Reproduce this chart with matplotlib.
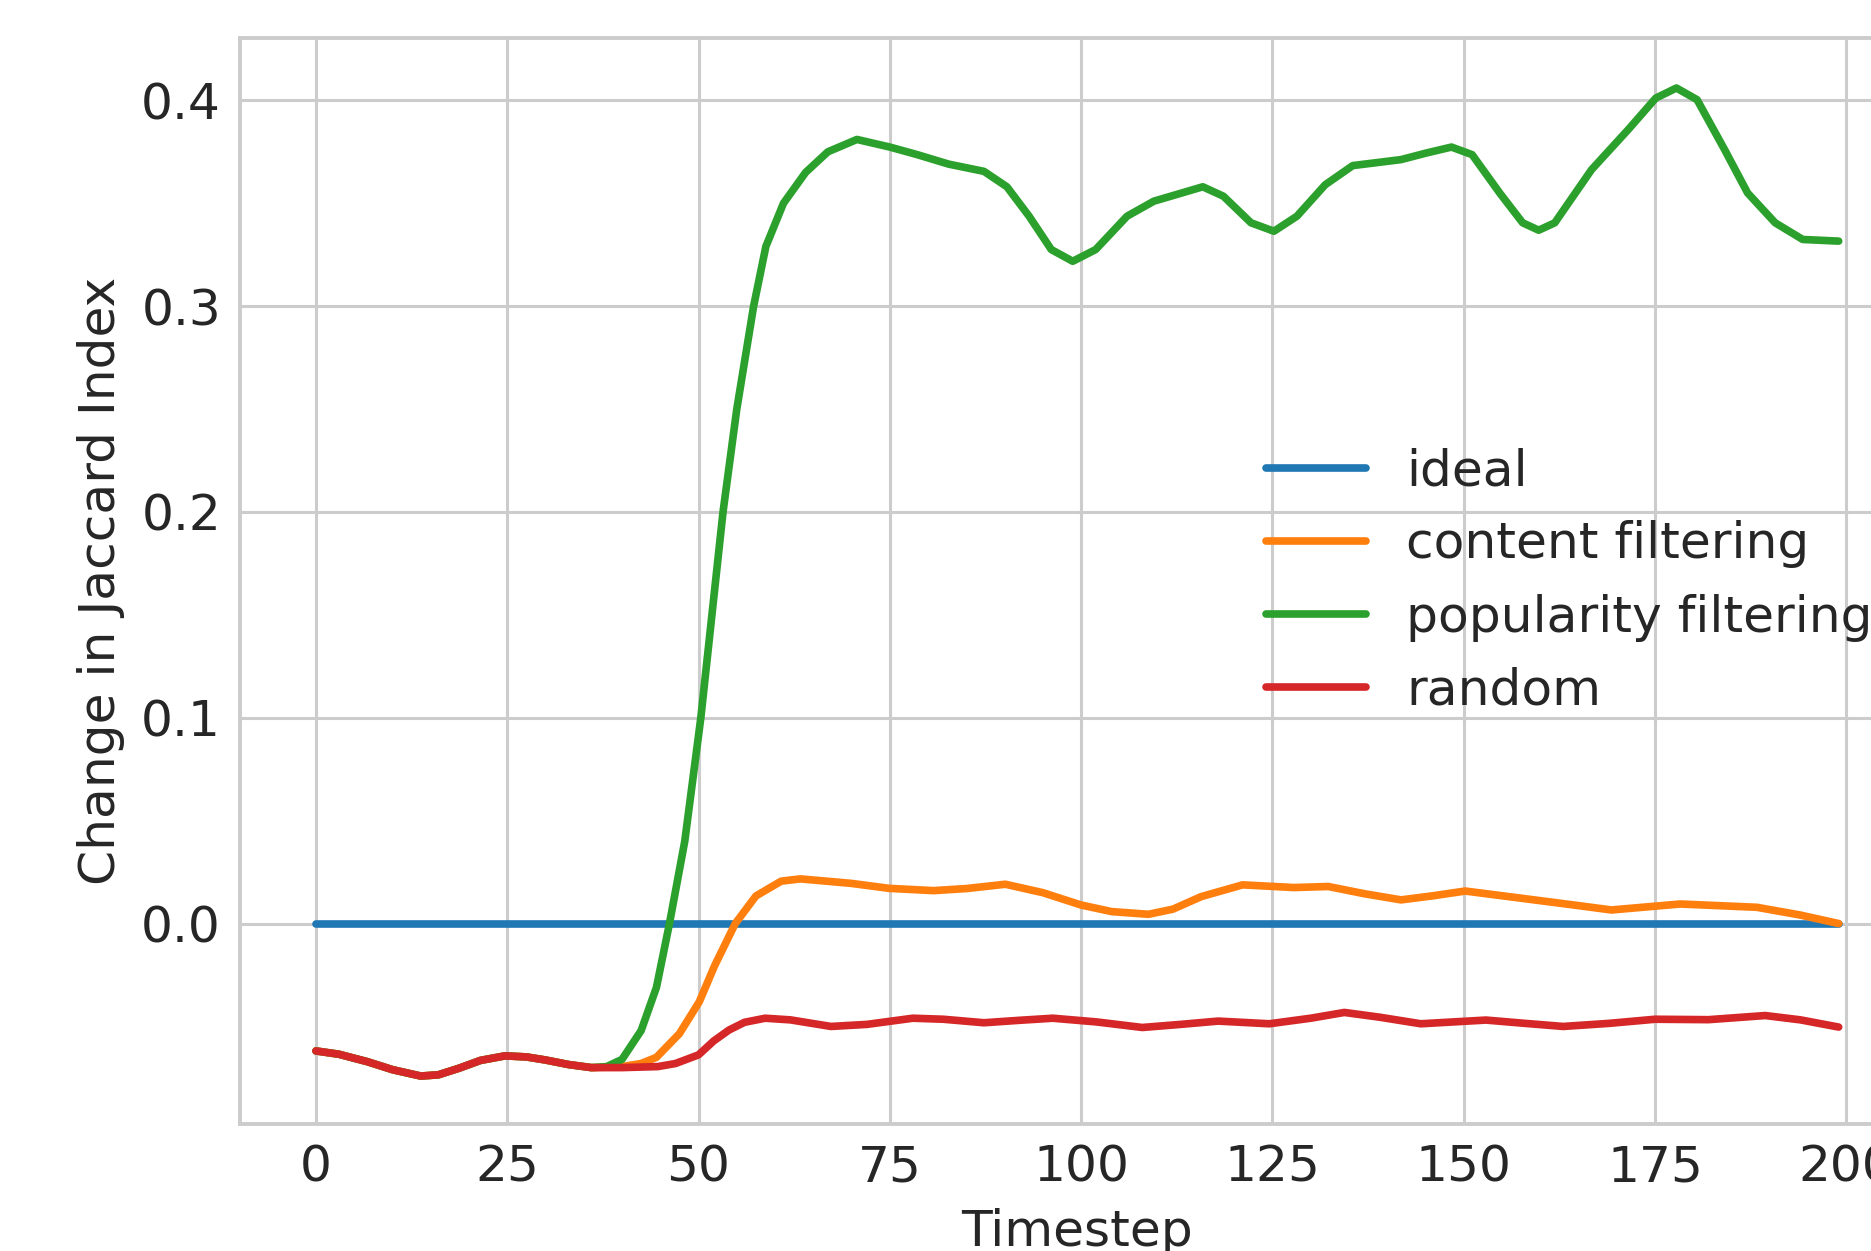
import matplotlib
matplotlib.use("Agg")
import matplotlib.pyplot as plt

# ---- data ----
series_names = ["ideal", "content filtering", "popularity filtering", "random"]
series_colors = ["#1f77b4", "#ff7f0e", "#2ca02c", "#d62728"]

ideal_t = [0, 199]
ideal_v = [0.0, 0.0]

red_t = [0, 3, 6.7, 10, 13.7, 16, 18.7, 21.5, 24.7, 27.5, 30, 33, 36, 40, 44.7, 47,
         50, 52, 54, 56, 58.7, 62, 67.3, 72, 78, 82, 87.3, 92, 96.3, 102, 108, 113,
         117.9, 124.6, 130, 134.4, 139, 144.4, 152.9, 158, 163, 169, 175, 182,
         189.4, 194, 199]
red_v = [-0.0619, -0.0635, -0.0671, -0.0710, -0.0741, -0.0735, -0.0703, -0.0665,
         -0.0643, -0.0648, -0.0663, -0.0685, -0.0700, -0.0700, -0.0695, -0.0680,
         -0.0638, -0.0570, -0.0517, -0.0480, -0.0460, -0.0468, -0.0500, -0.0490,
         -0.0460, -0.0465, -0.0482, -0.0470, -0.0460, -0.0478, -0.0505, -0.0490,
         -0.0474, -0.0487, -0.0460, -0.0432, -0.0455, -0.0487, -0.0469, -0.0485,
         -0.0500, -0.0485, -0.0465, -0.0467, -0.0447, -0.0468, -0.0503]

green_t = [0, 3, 6.7, 10, 13.7, 16, 18.7, 21.5, 24.7, 27.5, 30, 33, 36, 38, 40, 42.5,
           44.5, 46.2, 48.2, 50.3, 53.2, 55, 57.2, 58.8, 61.1, 64, 66.9, 70.7, 75,
           78.6, 82.7, 87.3, 90.3, 93.2, 96.1, 98.9, 101.9, 106, 109.5, 115.9, 118.6,
           122.2, 125.2, 128.2, 131.9, 135.5, 141.8, 145.1, 148.4, 151.1, 154.7,
           157.7, 159.8, 161.9, 166.7, 171.5, 175.1, 177.8, 180.5, 184.1, 187.1,
           190.7, 194.3, 199]
green_v = [-0.0619, -0.0635, -0.0671, -0.0710, -0.0741, -0.0735, -0.0703, -0.0665,
           -0.0643, -0.0648, -0.0663, -0.0685, -0.0700, -0.0695, -0.0660, -0.0520,
           -0.0310, 0.0, 0.040, 0.100, 0.200, 0.250, 0.300, 0.329, 0.350, 0.365,
           0.375, 0.381, 0.3773, 0.3736, 0.369, 0.3655, 0.358, 0.3437, 0.3275,
           0.3218, 0.3275, 0.3437, 0.351, 0.358, 0.3534, 0.3405, 0.3364, 0.3437,
           0.359, 0.3683, 0.3712, 0.3744, 0.3773, 0.3736, 0.355, 0.3405, 0.3369,
           0.3405, 0.3663, 0.3858, 0.4011, 0.406, 0.4003, 0.376, 0.355, 0.3405,
           0.3324, 0.3316]

orange_t = [0, 3, 6.7, 10, 13.7, 16, 18.7, 21.5, 24.7, 27.5, 30, 33, 36, 40, 42.5,
            44.5, 47.5, 50.1, 52.1, 54.8, 57.5, 60.8, 63.3, 67, 70, 74.9, 80.7, 85,
            90.1, 95, 100, 104, 108.8, 112, 115.7, 121.1, 127.8, 132.3, 137, 141.8,
            146, 150.2, 159.2, 164, 169.3, 178.3, 188.3, 193.9, 199]
orange_v = [-0.0619, -0.0635, -0.0671, -0.0710, -0.0741, -0.0735, -0.0703, -0.0665,
            -0.0643, -0.0648, -0.0663, -0.0685, -0.0700, -0.0695, -0.0680, -0.0650,
            -0.0535, -0.0380, -0.0205, 0.0, 0.0134, 0.0206, 0.0217, 0.0205, 0.0195,
            0.0171, 0.0160, 0.0170, 0.0191, 0.0150, 0.0090, 0.0058, 0.0045, 0.0070,
            0.0131, 0.0188, 0.0175, 0.0180, 0.0145, 0.0115, 0.0135, 0.0158, 0.0115,
            0.0092, 0.0066, 0.0095, 0.0079, 0.0042, 0.0]

x_ticks = [0, 25, 50, 75, 100, 125, 150, 175, 200]
y_ticks = [0.0, 0.1, 0.2, 0.3, 0.4]
x_label = "Timestep"
y_label = "Change in Jaccard Index"

# ---- style (seaborn whitegrid look) ----
text_color = "#262626"
grid_color = "#cccccc"
fs = 36.2
lw = 5.5

plt.rcParams.update({
    "font.family": ["DejaVu Sans"],
    "text.color": text_color,
    "axes.labelcolor": text_color,
    "xtick.color": text_color,
    "ytick.color": text_color,
})

fig = plt.figure(figsize=(18.71, 12.51), dpi=100)
ax = fig.add_axes([0.12817, 0.10152, 0.89524, 0.86811])
ax.set_facecolor("white")
ax.set_axisbelow(True)
ax.grid(True, color=grid_color, linewidth=2.2)
for sp in ax.spines.values():
    sp.set_color(grid_color)
    sp.set_linewidth(2.8)

data = [(ideal_t, ideal_v), (orange_t, orange_v), (green_t, green_v), (red_t, red_v)]
for (t, v), name, col in zip(data, series_names, series_colors):
    ax.plot(t, v, color=col, linewidth=lw, label=name,
            solid_capstyle="round", solid_joinstyle="round")

ax.set_xlim(-9.95, 208.95)
ax.set_ylim(-0.0974, 0.4303)
ax.set_xticks(x_ticks)
ax.set_yticks(y_ticks)
ax.tick_params(axis="both", length=0, labelsize=fs)
ax.tick_params(axis="x", pad=14)
ax.tick_params(axis="y", pad=13.5)
ax.set_xlabel(x_label, fontsize=fs, labelpad=12)
ax.set_ylabel(y_label, fontsize=fs, labelpad=12)

leg = ax.legend(loc="center right", bbox_to_anchor=(1.002, 0.5),
                fontsize=fs, frameon=False, labelspacing=0.5)
for line in leg.get_lines():
    line.set_linewidth(lw)

fig.savefig("out.png", dpi=100)
